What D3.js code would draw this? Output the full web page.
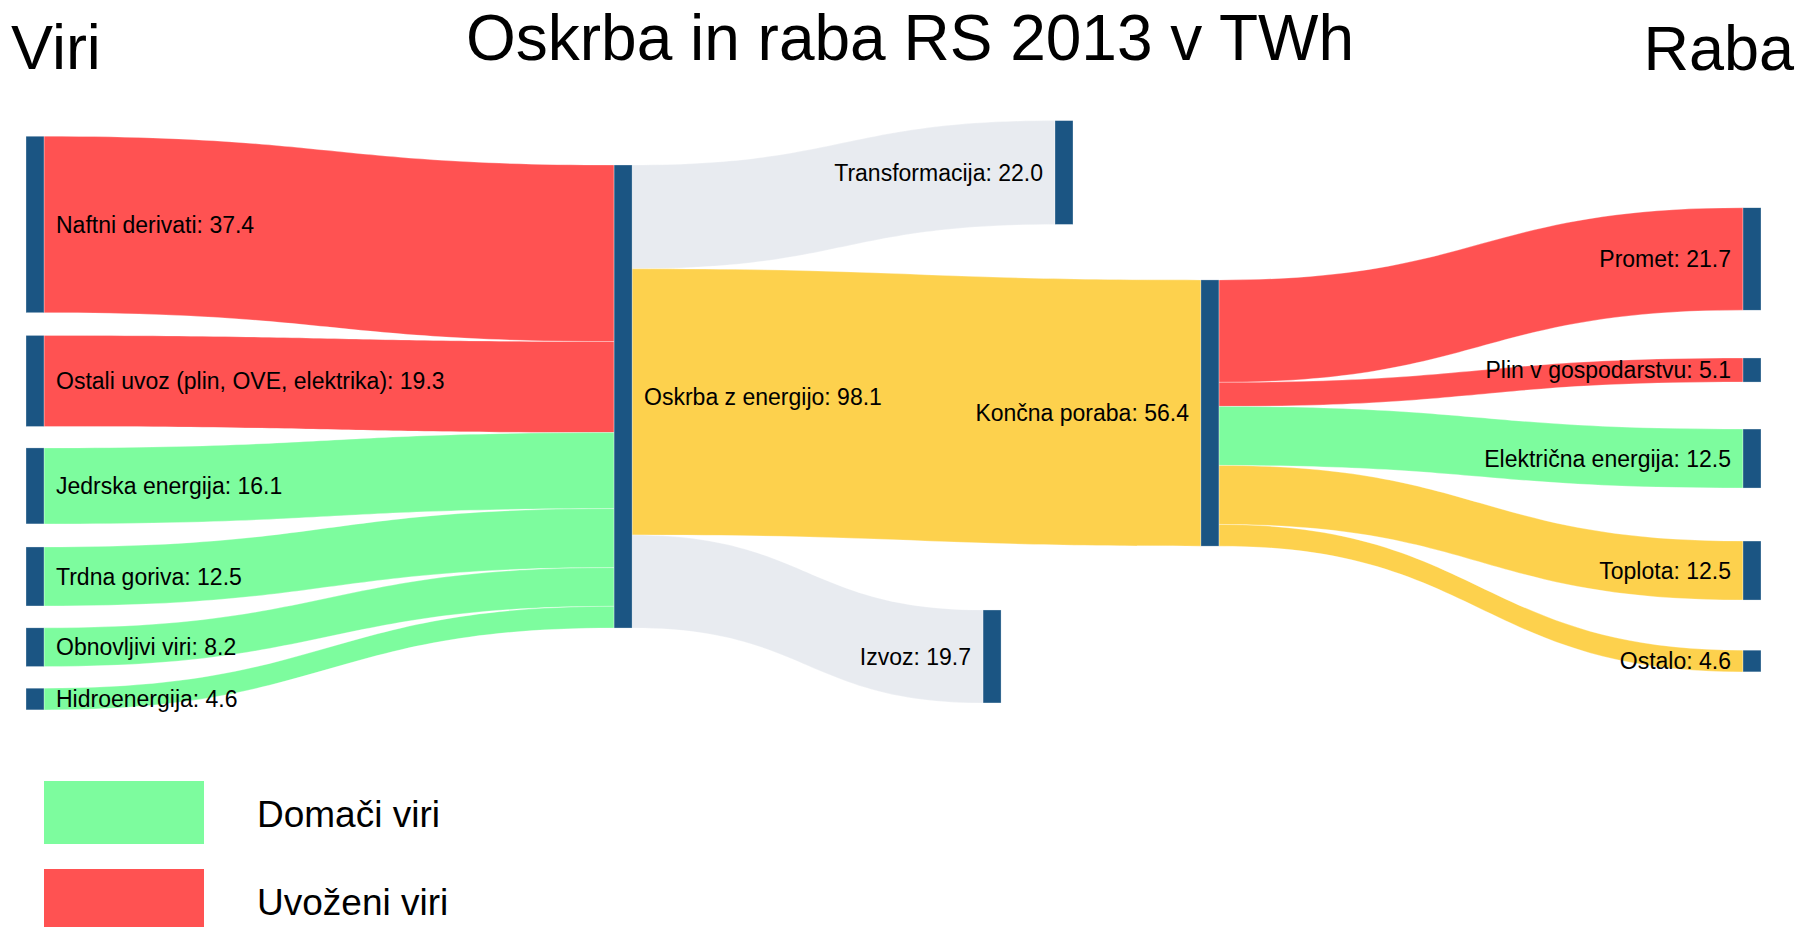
<!DOCTYPE html>
<html>
<head>
	<meta charset="utf-8">
	<title>Oskrba in raba RS 2013 v TWh</title>

<script src="https://d3js.org/d3.v7.min.js"></script>

<style type="text/css">
	body { margin: 0; background: #fff; }
	text { font-family: "Liberation Sans", Arial, sans-serif; fill: #000; }
	.node { fill: #1b5583; stroke: rgba(255,255,255,0.6); stroke-width: 0.5; }
	.link { stroke: rgba(255,255,255,0.6); stroke-width: 0.5; }
</style>

</head>
<body>

<script type="text/javascript">

var width = 1800,
	height = 927;

// nodes
var nodeNames = ["Naftni derivati", "Ostali uvoz (plin, OVE, elektrika)", "Jedrska energija",
	"Trdna goriva", "Obnovljivi viri", "Hidroenergija", "Oskrba z energijo", "Transformacija",
	"Končna poraba", "Izvoz", "Promet", "Plin v gospodarstvu", "Električna energija",
	"Toplota", "Ostalo"];

// links (TWh)
var linkSource = [0, 1, 2, 3, 4, 5, 6, 6, 6, 8, 8, 8, 8, 8];
var linkTarget = [6, 6, 6, 6, 6, 6, 7, 8, 9, 10, 11, 12, 13, 14];
var linkValue  = [37.4, 19.3, 16.1, 12.5, 8.2, 4.6, 22.0, 56.4, 19.7, 21.7, 5.1, 12.5, 12.5, 4.6];
var linkKind   = ["uvoz", "uvoz", "domace", "domace", "domace", "domace", "izven", "raba", "izven",
	"uvoz", "uvoz", "domace", "raba", "raba"];

var legendLabels = ["Domači viri", "Uvoženi viri"];
var legendKinds = ["domace", "uvoz"];

// node placement (fractions of the plot area, like plotly node.x / node.y)
var nodeX = [0, 0, 0, 0, 0, 0, 0.3425, 0.5993, 0.6843, 0.5574, 1, 1, 1, 1, 1];
var nodeY = [0.1945, 0.439, 0.603, 0.7445, 0.855, 0.936, 0.4633, 0.1133, 0.4891, 0.8695,
	0.2484, 0.4219, 0.5602, 0.7352, 0.8766];

var color = d3.scaleOrdinal()
	.domain(["uvoz", "domace", "raba", "izven"])
	.range(["#ff5252", "#7dfc9e", "#fdd14d", "#e8ebf0"]);

var nodeWidth = 18;

var x = d3.scaleLinear().domain([0, 1]).range([26, 1743]);
var y = d3.scaleLinear().domain([0, 1]).range([100, 740]);
var ky = d3.scaleLinear().domain([0, 100]).range([0, 472]);

var svg = d3.select('body').append('svg')
	.attr('width', width)
	.attr('height', height)

// build nodes and links
var nodes = nodeNames.map(function(name, i) {
	return { name: name, index: i, inLinks: [], outLinks: [] };
});
var links = linkValue.map(function(v, i) {
	var l = { source: nodes[linkSource[i]], target: nodes[linkTarget[i]], value: v, kind: linkKind[i] };
	l.source.outLinks.push(l);
	l.target.inLinks.push(l);
	return l;
});

nodes.forEach(function(n) {
	n.value = Math.max(d3.sum(n.inLinks, function(l) { return l.value; }),
		d3.sum(n.outLinks, function(l) { return l.value; }));
	var h = ky(n.value);
	n.x0 = x(nodeX[n.index]);
	n.x1 = n.x0 + nodeWidth;
	n.y0 = y(nodeY[n.index]) - h / 2;
	n.y1 = n.y0 + h;
	// stack the links on each side
	var s = n.y0;
	n.outLinks.forEach(function(l) { l.sy0 = s; s += ky(l.value); l.sy1 = s; });
	var t = n.y0;
	n.inLinks.forEach(function(l) { l.ty0 = t; t += ky(l.value); l.ty1 = t; });
});

function linkPath(l) {
	var x0 = l.source.x1, x1 = l.target.x0, xm = (x0 + x1) / 2;
	return "M" + x0 + "," + l.sy0 +
		"C" + xm + "," + l.sy0 + " " + xm + "," + l.ty0 + " " + x1 + "," + l.ty0 +
		"L" + x1 + "," + l.ty1 +
		"C" + xm + "," + l.ty1 + " " + xm + "," + l.sy1 + " " + x0 + "," + l.sy1 + "Z";
}

svg.append('g')
	.selectAll('path')
	.data(links)
	.enter().append('path')
	.attr('class', 'link')
	.attr('d', linkPath)
	.attr('fill', function(d) { return color(d.kind); });

svg.append('g')
	.selectAll('rect')
	.data(nodes)
	.enter().append('rect')
	.attr('class', 'node')
	.attr('x', function(d) { return d.x0; })
	.attr('y', function(d) { return d.y0; })
	.attr('width', nodeWidth)
	.attr('height', function(d) { return d.y1 - d.y0; });

var fmt = d3.format(".1f");

svg.append('g')
	.selectAll('text')
	.data(nodes)
	.enter().append('text')
	.attr('x', function(d) { return nodeX[d.index] < 0.5 ? d.x1 + 12 : d.x0 - 12; })
	.attr('y', function(d) { return (d.y0 + d.y1) / 2; })
	.attr('dy', '0.35em')
	.attr('text-anchor', function(d) { return nodeX[d.index] < 0.5 ? 'start' : 'end'; })
	.style('font-size', '23px')
	.text(function(d) { return d.name + ": " + fmt(d.value); });

// titles
svg.append('text')
	.attr('x', 910).attr('y', 60)
	.attr('text-anchor', 'middle')
	.style('font-size', '64px')
	.text("Oskrba in raba RS 2013 v TWh");

svg.append('text')
	.attr('x', 11).attr('y', 69)
	.style('font-size', '63px')
	.text("Viri");

svg.append('text')
	.attr('x', 1794).attr('y', 70)
	.attr('text-anchor', 'end')
	.style('font-size', '63px')
	.text("Raba");

// legend
var legend = svg.append('g').selectAll('g')
	.data(legendLabels)
	.enter().append('g')
	.attr('transform', function(d, i) { return "translate(0," + (i * 88) + ")"; });

legend.append('rect')
	.attr('x', 44).attr('y', 781)
	.attr('width', 160).attr('height', 63)
	.attr('fill', function(d, i) { return color(legendKinds[i]); });

legend.append('text')
	.attr('x', 257).attr('y', 827)
	.style('font-size', '37px')
	.text(function(d) { return d; });

</script>

</body>
</html>
